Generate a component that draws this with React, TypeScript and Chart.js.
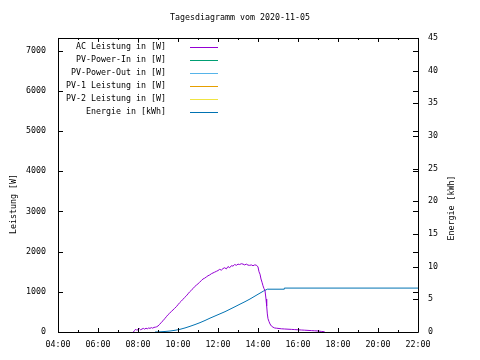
import React, { useEffect, useRef } from "react";
import { Chart, registerables } from "chart.js";

Chart.register(...registerables);

const TITLE = "Tagesdiagramm vom 2020-11-05";
const FONT = "'DejaVu Sans Mono', 'Liberation Mono', monospace";

const seriesLabels = [
  "AC Leistung in [W]",
  "PV-Power-In in [W]",
  "PV-Power-Out in [W]",
  "PV-1 Leistung in [W]",
  "PV-2 Leistung in [W]",
  "Energie in [kWh]",
];
const seriesColors = ["#9400d3", "#009e73", "#56b4e9", "#e69f00", "#f0e442", "#0072b2"];

const xTickHours = [4, 6, 8, 10, 12, 14, 16, 18, 20, 22];
const powerTicks = [0, 1000, 2000, 3000, 4000, 5000, 6000, 7000];
const energyTicks = [0, 5, 10, 15, 20, 25, 30, 35, 40, 45];

const acTimes = [
  "07:46", "07:50", "07:53", "07:56", "08:00", "08:04", "08:08", "08:12", "08:16", "08:20",
  "08:24", "08:28", "08:32", "08:36", "08:40", "08:44", "08:48", "08:52", "08:56", "09:00",
  "09:05", "09:10", "09:15", "09:20", "09:25", "09:30", "09:35", "09:40", "09:45", "09:50",
  "09:55", "10:00", "10:05", "10:10", "10:15", "10:20", "10:25", "10:30", "10:35", "10:40",
  "10:45", "10:50", "10:55", "11:00", "11:05", "11:10", "11:15", "11:20", "11:25", "11:30",
  "11:35", "11:40", "11:45", "11:50", "11:55", "12:00", "12:05", "12:10", "12:15", "12:20",
  "12:25", "12:30", "12:35", "12:40", "12:45", "12:50", "12:55", "13:00", "13:05", "13:10",
  "13:15", "13:20", "13:25", "13:30", "13:35", "13:40", "13:45", "13:50", "13:55", "14:00",
  "14:03", "14:06", "14:09", "14:12", "14:15", "14:18", "14:21", "14:24", "14:26", "14:28",
  "14:30", "14:33", "14:36", "14:40", "14:45", "14:50", "14:55", "15:00", "15:10", "15:20",
  "15:30", "15:40", "15:50", "16:00", "16:10", "16:20", "16:30", "16:40", "16:50", "17:00",
  "17:10", "17:20",
];
const acValues = [
  0, 40, 70, 45, 60, 85, 55, 75, 90, 70,
  95, 80, 100, 90, 110, 95, 115, 120, 130, 150,
  190, 240, 280, 330, 380, 430, 470, 510, 550, 590,
  630, 680, 730, 770, 815, 860, 900, 950, 1000, 1040,
  1080, 1130, 1165, 1200, 1240, 1280, 1320, 1340, 1370, 1400,
  1420, 1450, 1470, 1490, 1510, 1530, 1560, 1540, 1580, 1600,
  1570, 1630, 1600, 1650, 1640, 1680, 1660, 1690, 1680, 1700,
  1690, 1670, 1690, 1665, 1660, 1670, 1650, 1670, 1665, 1620,
  1500, 1440, 1320, 1240, 1150, 1080, 1030, 820, 650, 450,
  330, 260, 200, 150, 120, 100, 95, 90, 80, 75,
  70, 65, 60, 55, 50, 45, 40, 35, 30, 25,
  15, 5,
];

const energyTimes = [
  "08:51", "09:06", "09:21", "09:36", "09:51", "10:06", "10:21", "10:36", "10:51", "11:06",
  "11:21", "11:36", "11:51", "12:06", "12:21", "12:36", "12:51", "13:06", "13:21", "13:36",
  "13:51", "14:06", "14:16", "14:24", "14:28", "15:18", "15:19", "22:00",
];
const energyValues = [
  0, 0.03, 0.08, 0.15, 0.26, 0.41, 0.62, 0.87, 1.14, 1.43,
  1.76, 2.12, 2.45, 2.78, 3.11, 3.49, 3.87, 4.26, 4.64, 5.05,
  5.5, 5.95, 6.25, 6.45, 6.55, 6.55, 6.72, 6.72,
];

const toHours = (s: string) => {
  const [h, m] = s.split(":");
  return Number(h) + Number(m) / 60;
};
const pad2 = (n: number) => (n < 10 ? "0" + n : "" + n);

const framePlugin = {
  id: "gnuplotFrame",
  afterDatasetsDraw(chart: any) {
    const { ctx, chartArea } = chart;
    const { left, right, top, bottom } = chartArea;
    const xs = chart.scales.x;
    const ys = chart.scales.y;
    const y1 = chart.scales.y1;
    ctx.save();
    ctx.strokeStyle = "#000";
    ctx.lineWidth = 1;
    ctx.beginPath();
    ctx.rect(Math.round(left) + 0.5, Math.round(top) + 0.5, Math.round(right - left), Math.round(bottom - top));
    ctx.stroke();
    ctx.beginPath();
    for (let h = 4; h <= 22; h++) {
      const x = Math.round(xs.getPixelForValue(h)) + 0.5;
      const len = h % 2 === 0 ? 4 : 2;
      ctx.moveTo(x, bottom);
      ctx.lineTo(x, bottom - len);
      ctx.moveTo(x, top);
      ctx.lineTo(x, top + len);
    }
    powerTicks.forEach((v) => {
      const y = Math.round(ys.getPixelForValue(v)) + 0.5;
      ctx.moveTo(left, y);
      ctx.lineTo(left + 5, y);
      ctx.moveTo(right, y);
      ctx.lineTo(right - 5, y);
    });
    energyTicks.forEach((v) => {
      const y = Math.round(y1.getPixelForValue(v)) + 0.5;
      ctx.moveTo(right, y);
      ctx.lineTo(right - 5, y);
    });
    ctx.stroke();

    // legend
    ctx.font = "8.3px " + FONT;
    ctx.textAlign = "right";
    ctx.textBaseline = "middle";
    seriesLabels.forEach((label, i) => {
      const y = 47 + i * 13;
      ctx.fillStyle = "#000";
      ctx.fillText(label, 166, y);
      ctx.beginPath();
      ctx.strokeStyle = seriesColors[i];
      ctx.lineWidth = 1;
      ctx.moveTo(190, y + 0.5);
      ctx.lineTo(218, y + 0.5);
      ctx.stroke();
    });

    // axis titles
    ctx.fillStyle = "#000";
    ctx.textAlign = "center";
    ctx.textBaseline = "middle";
    ctx.save();
    ctx.translate(14, 204);
    ctx.rotate(-Math.PI / 2);
    ctx.fillText("Leistung [W]", 0, 0);
    ctx.restore();
    ctx.save();
    ctx.translate(452, 208);
    ctx.rotate(-Math.PI / 2);
    ctx.fillText("Energie [kWh]", 0, 0);
    ctx.restore();
    ctx.restore();
  },
};

export default function App() {
  const ref = useRef<HTMLCanvasElement | null>(null);
  useEffect(() => {
    if (!ref.current) return;
    const tickFont = { family: FONT, size: 8.3 };
    const dataSeries = [
      acTimes.map((t, i) => ({ x: toHours(t), y: acValues[i] })),
      [],
      [],
      [],
      [],
      energyTimes.map((t, i) => ({ x: toHours(t), y: energyValues[i] })),
    ];
    const chart = new Chart(ref.current, {
      type: "line",
      data: {
        datasets: seriesLabels.map((label, i) => ({
          label,
          data: dataSeries[i] as any,
          borderColor: seriesColors[i],
          backgroundColor: seriesColors[i],
          borderWidth: 1,
          pointRadius: 0,
          tension: 0,
          yAxisID: i === 5 ? "y1" : "y",
        })),
      },
      plugins: [framePlugin],
      options: {
        responsive: false,
        animation: false,
        layout: { padding: 0 },
        plugins: {
          legend: { display: false },
          tooltip: { enabled: false },
          title: {
            display: true,
            text: TITLE,
            color: "#000",
            font: { family: FONT, size: 8.3, weight: "normal" },
            padding: { top: 13, bottom: 15 },
          },
        },
        scales: {
          x: {
            type: "linear",
            position: "bottom",
            min: 4,
            max: 22,
            afterBuildTicks: (s: any) => {
              s.ticks = xTickHours.map((v) => ({ value: v }));
            },
            ticks: {
              callback: (v: any) => pad2(Number(v)) + ":00",
              color: "#000",
              font: tickFont,
              padding: 8,
              maxRotation: 0,
              autoSkip: false,
            },
            grid: { display: false, drawTicks: false },
            border: { display: false },
            afterFit: (s: any) => {
              s.height = 28;
            },
          },
          y: {
            position: "left",
            min: 0,
            max: 7320,
            afterBuildTicks: (s: any) => {
              s.ticks = powerTicks.map((v) => ({ value: v }));
            },
            ticks: { color: "#000", font: tickFont, padding: 12, callback: (v: any) => String(v) },
            grid: { display: false, drawTicks: false },
            border: { display: false },
            afterFit: (s: any) => {
              s.width = 58;
            },
          },
          y1: {
            position: "right",
            min: 0,
            max: 45,
            afterBuildTicks: (s: any) => {
              s.ticks = energyTicks.map((v) => ({ value: v }));
            },
            ticks: { color: "#000", font: tickFont, padding: 10, callback: (v: any) => String(v) },
            grid: { display: false, drawTicks: false },
            border: { display: false },
            afterFit: (s: any) => {
              s.width = 62;
            },
          },
        },
      },
    } as any);
    return () => chart.destroy();
  }, []);
  return (
    <div style={{ position: "absolute", left: 0, top: 0, width: 480, height: 360, background: "#fff" }}>
      <canvas ref={ref} width={480} height={360} style={{ display: "block" }} />
    </div>
  );
}
